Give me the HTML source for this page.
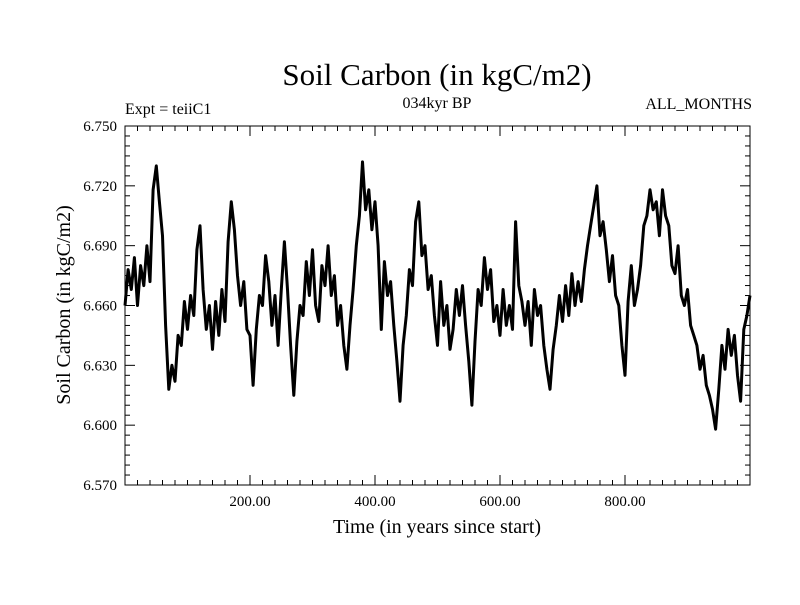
<!DOCTYPE html>
<html><head><meta charset="utf-8"><style>body{margin:0;background:#fff}svg text{font-family:"Liberation Serif",serif;fill:#000}</style></head>
<body>
<svg id="chart" width="800" height="600" xmlns="http://www.w3.org/2000/svg">
<text x="437" y="85" font-size="31" text-anchor="middle">Soil Carbon (in kgC/m2)</text>
<text x="437" y="108" font-size="16" text-anchor="middle">034kyr BP</text>
<text x="125" y="114" font-size="16">Expt = teiiC1</text>
<text x="752" y="109" font-size="16" text-anchor="end">ALL_MONTHS</text>
<text x="437" y="533" font-size="20" text-anchor="middle">Time (in years since start)</text>
<text x="70" y="305" font-size="20" text-anchor="middle" transform="rotate(-90 70 305)">Soil Carbon (in kgC/m2)</text>
<g id="ticks"></g>
<g id="series"></g>
<rect x="125" y="126" width="625" height="359" fill="none" stroke="#000" stroke-width="1"/>
</svg>
<script>
const yTicks=[6.570,6.600,6.630,6.660,6.690,6.720,6.750];
const xTicks=[200,400,600,800];
const years=[];for(let i=0;i<=200;i++)years.push(i*5);
const values=[6.660,6.678,6.668,6.684,6.660,6.680,6.670,6.690,6.672,6.718,6.730,6.712,6.695,6.650,6.618,6.630,6.622,6.645,6.640,6.662,6.648,6.665,6.655,6.688,6.700,6.668,6.648,6.660,6.638,6.662,6.645,6.668,6.652,6.692,6.712,6.698,6.675,6.660,6.672,6.648,6.645,6.620,6.648,6.665,6.660,6.685,6.672,6.650,6.665,6.640,6.668,6.692,6.668,6.640,6.615,6.642,6.660,6.655,6.682,6.665,6.688,6.660,6.652,6.680,6.670,6.690,6.665,6.675,6.650,6.660,6.640,6.628,6.650,6.668,6.690,6.705,6.732,6.708,6.718,6.698,6.712,6.690,6.648,6.682,6.665,6.672,6.650,6.632,6.612,6.640,6.655,6.678,6.670,6.702,6.712,6.685,6.690,6.668,6.675,6.655,6.640,6.672,6.650,6.660,6.638,6.648,6.668,6.655,6.670,6.650,6.632,6.610,6.642,6.668,6.660,6.684,6.668,6.678,6.652,6.660,6.645,6.668,6.650,6.660,6.648,6.702,6.670,6.662,6.650,6.662,6.640,6.668,6.655,6.660,6.640,6.628,6.618,6.638,6.650,6.665,6.652,6.670,6.655,6.676,6.660,6.672,6.662,6.678,6.690,6.700,6.710,6.720,6.695,6.702,6.688,6.672,6.685,6.665,6.660,6.640,6.625,6.662,6.680,6.660,6.668,6.680,6.700,6.705,6.718,6.708,6.712,6.695,6.718,6.705,6.700,6.680,6.676,6.690,6.665,6.660,6.668,6.650,6.645,6.640,6.628,6.635,6.620,6.615,6.608,6.598,6.618,6.640,6.628,6.648,6.635,6.645,6.625,6.612,6.648,6.655,6.665];
const X0=125,X1=750,Y0=485,Y1=126,xmin=0,xmax=1000,ymin=6.570,ymax=6.750;
function xs(v){return X0+(v-xmin)/(xmax-xmin)*(X1-X0);}
function ys(v){return Y0-(v-ymin)/(ymax-ymin)*(Y0-Y1);}
const NS="http://www.w3.org/2000/svg";
const tg=document.getElementById('ticks');
function line(x1,y1,x2,y2,nm){const l=document.createElementNS(NS,'line');l.setAttribute('x1',x1);l.setAttribute('y1',y1);l.setAttribute('x2',x2);l.setAttribute('y2',y2);l.setAttribute('stroke','#000');


tg.appendChild(l);}
function txt(x,y,s,anchor,nm){const t=document.createElementNS(NS,'text');t.setAttribute('x',x);t.setAttribute('y',y);t.setAttribute('font-size','15');t.setAttribute('text-anchor',anchor);t.textContent=s;


tg.appendChild(t);}
for(let k=0;k<=36;k++){const v=ymin+k*0.005,y=ys(v),len=(k%6==0)?10:5;line(X0,y,X0+len,y,'y-tick');line(X1-len,y,X1,y,'y-tick');}
yTicks.forEach(v=>txt(117,ys(v)+5,v.toFixed(3),'end','y-tick-label'));
for(let v=0;v<=1000;v+=20){const x=xs(v),len=(v%200==0)?10:5;line(x,Y0,x,Y0-len,'x-tick');line(x,Y1,x,Y1+len,'x-tick');}
xTicks.forEach(v=>txt(xs(v),506,v.toFixed(2),'middle','x-tick-label'));
const p=document.createElementNS(NS,'path');
p.setAttribute('d',values.map((v,i)=>(i?'L':'M')+xs(years[i]).toFixed(1)+','+ys(v).toFixed(1)).join(''));
p.setAttribute('fill','none');p.setAttribute('stroke','#000');p.setAttribute('stroke-width','3');p.setAttribute('stroke-linejoin','round');


document.getElementById('series').appendChild(p);
</script>
</body></html>
